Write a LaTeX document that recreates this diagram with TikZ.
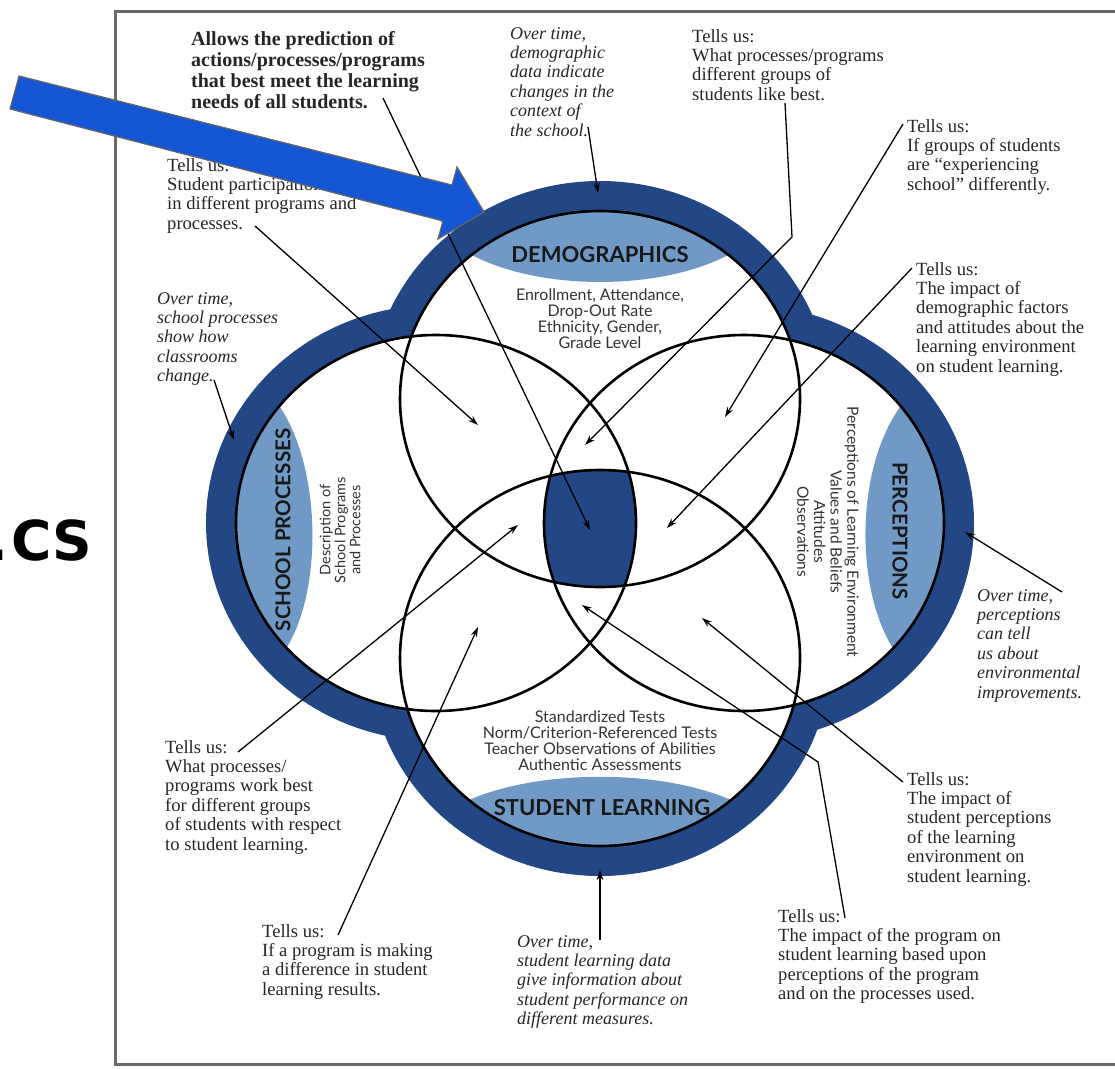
\documentclass[tikz,border=0pt]{standalone}
\usepackage{fontspec}
\setmainfont{Liberation Serif}
\newfontfamily\circfont{Lato}
\newfontfamily\dotfont{DejaVu Sans}
\usepackage{tikz}
\usetikzlibrary{arrows.meta}
\definecolor{bandblue}{RGB}{34,71,132}
\definecolor{lensblue}{RGB}{113,153,198}
\definecolor{bigblue}{RGB}{20,86,212}
\definecolor{framegray}{RGB}{105,105,105}
\tikzstyle{tellsus}=[anchor=north west,align=left,inner sep=0pt,text=black!85,font=\fontsize{18.6}{19.4}\selectfont]
\tikzstyle{overtime}=[tellsus,font=\fontsize{18}{19.4}\selectfont\itshape]
\tikzstyle{circtext}=[align=center,inner sep=0pt,text=black!80,font=\circfont\fontsize{16}{16}\selectfont]
\tikzstyle{lenslabel}=[inner sep=0pt,text=black!90,font=\circfont\bfseries\fontsize{20.5}{22}\selectfont]
\tikzstyle{pointer}=[line width=1.3pt,-{Stealth[length=10pt,width=6.5pt]}]
\tikzstyle{ring}=[line width=2.6pt]

\begin{document}
\begin{tikzpicture}[x=1pt,y=-1pt]
\useasboundingbox (0,0) rectangle (1115,1068);
\draw[framegray,line width=3pt] (1140,11) -- (115,11) -- (115,1064) -- (1140,1064);

\coordinate (T) at (600,399);
\coordinate (B) at (600,658);
\coordinate (L) at (436,523);
\coordinate (R) at (744,523);

\foreach \c in {T,B,L,R}
  \fill[bandblue] (\c) ellipse [x radius=230pt, y radius=218pt];
\foreach \c in {T,B,L,R}
  \fill[white] (\c) ellipse [x radius=200pt, y radius=188pt];

\begin{scope}
  \clip (T) ellipse [x radius=200pt, y radius=188pt];
  \fill[lensblue] (472,255) .. controls (540,291) and (660,291) .. (728,255) -- (728,150) -- (472,150) -- cycle;
\end{scope}
\begin{scope}
  \clip (L) ellipse [x radius=200pt, y radius=188pt];
  \fill[lensblue] (280,407) .. controls (322,470) and (322,590) .. (287,647) -- (200,647) -- (200,407) -- cycle;
\end{scope}
\begin{scope}
  \clip (R) ellipse [x radius=200pt, y radius=188pt];
  \fill[lensblue] (900,407) .. controls (855,470) and (855,590) .. (894,650) -- (990,650) -- (990,407) -- cycle;
\end{scope}
\begin{scope}
  \clip (B) ellipse [x radius=200pt, y radius=188pt];
  \fill[lensblue] (469,800) .. controls (540,769) and (660,769) .. (731,800) -- (731,900) -- (469,900) -- cycle;
\end{scope}
\begin{scope}
  \clip (T) ellipse [x radius=200pt, y radius=188pt];
  \clip (B) ellipse [x radius=200pt, y radius=188pt];
  \clip (L) ellipse [x radius=200pt, y radius=188pt];
  \fill[bandblue] (R) ellipse [x radius=200pt, y radius=188pt];
\end{scope}

\foreach \c in {T,B,L,R}
  \draw[ring] (\c) ellipse [x radius=200pt, y radius=188pt];

\node[lenslabel,font=\circfont\bfseries\fontsize{22}{22}\selectfont] (demo) at (600,255) {DEMOGRAPHICS};
\node[circtext] (demotext) at (600,319) {Enrollment, Attendance,\\Drop-Out Rate\\Ethnicity, Gender,\\Grade Level};
\node[lenslabel,rotate=90] (school) at (283,530) {SCHOOL PROCESSES};
\node[circtext,rotate=90,font=\circfont\fontsize{14.5}{15}\selectfont] (schooltext) at (340,530) {Description of\\School Programs\\and Processes};
\node[lenslabel,rotate=-90] (perc) at (900,531) {PERCEPTIONS};
\node[circtext,rotate=-90,font=\circfont\fontsize{15.5}{16.7}\selectfont] (perctext) at (828,532) {Perceptions of Learning Environment\\Values and Beliefs\\Attitudes\\Observations};
\node[circtext] (learntext) at (600,741) {Standardized Tests\\Norm/Criterion-Referenced Tests\\Teacher Observations of Abilities\\Authentic Assessments};
\node[lenslabel,font=\circfont\bfseries\fontsize{22}{22}\selectfont] (learn) at (602,808) {STUDENT LEARNING};

\node[tellsus,font=\fontsize{20}{21}\selectfont\bfseries] (allows) at (191,31) {Allows the prediction of\\actions/processes/programs\\that best meet the learning\\needs of all students.};
\node[tellsus] (t1) at (167,158) {Tells us:\\Student participation\\in different programs and\\processes.};
\node[overtime] (o1) at (510,27) {Over time,\\demographic\\data indicate\\changes in the\\context of\\the school.};
\node[tellsus] (t2) at (692,29) {Tells us:\\What processes/programs\\different groups of\\students like best.};
\node[tellsus] (t3) at (907,119) {Tells us:\\If groups of students\\are “experiencing\\school” differently.};
\node[tellsus] (t4) at (916,262) {Tells us:\\The impact of\\demographic factors\\and attitudes about the\\learning environment\\on student learning.};
\node[overtime] (o2) at (157,292) {Over time,\\school processes\\show how\\classrooms\\change.};
\node[tellsus] (t5) at (165,740) {Tells us:\\What processes/\\programs work best\\for different groups\\of students with respect\\to student learning.};
\node[tellsus] (t6) at (262,924) {Tells us:\\If a program is making\\a difference in student\\learning results.};
\node[overtime] (o3) at (517,935) {Over time,\\student learning data\\give information about\\student performance on\\different measures.};
\node[tellsus] (t7) at (778,909) {Tells us:\\The impact of the program on\\student learning based upon\\perceptions of the program\\and on the processes used.};
\node[tellsus] (t8) at (907,772) {Tells us:\\The impact of\\student perceptions\\of the learning\\environment on\\student learning.};
\node[overtime] (o4) at (977,589) {Over time,\\perceptions\\can tell\\us about\\environmental\\improvements.};

\coordinate (a0) at (383,98);   \coordinate (a1) at (590,530);
\coordinate (b0) at (255,226);  \coordinate (b1) at (478,425);
\coordinate (c0) at (588,127);  \coordinate (c1) at (598,193);
\coordinate (d0) at (785,103);  \coordinate (dk) at (792,237);  \coordinate (d1) at (585,445);
\coordinate (e0) at (903,124);  \coordinate (e1) at (725,417);
\coordinate (f0) at (912,268);  \coordinate (f1) at (667,528);
\coordinate (g0) at (214,380);  \coordinate (g1) at (234,440);
\coordinate (h0) at (238,752);  \coordinate (h1) at (518,525);
\coordinate (i0) at (338,935);  \coordinate (i1) at (478,627);
\coordinate (j0) at (600,940);  \coordinate (j1) at (600,870);
\coordinate (k0) at (845,918);  \coordinate (kk) at (818,762);  \coordinate (k1) at (582,605);
\coordinate (l0) at (903,782);  \coordinate (l1) at (702,618);
\coordinate (m0) at (1062,592); \coordinate (m1) at (965,532);

\foreach \s/\e in {a0/a1,b0/b1,c0/c1,e0/e1,f0/f1,g0/g1,h0/h1,i0/i1,j0/j1,l0/l1,m0/m1}
  \draw[pointer] (\s) -- (\e);
\draw[pointer] (d0) -- (dk) -- (d1);
\draw[pointer] (k0) -- (kk) -- (k1);

\fill[bigblue,draw=black!60,line width=1.2pt] (19,76) -- (452,185) -- (457,167) -- (484,212) -- (438,239) -- (443,221) -- (10,109) -- cycle;

\node[anchor=base west,inner sep=0pt,font=\dotfont\bfseries\fontsize{55}{60}\selectfont] (cs) at (-13,560) {.\kern3pt CS};
\end{tikzpicture}
\end{document}
